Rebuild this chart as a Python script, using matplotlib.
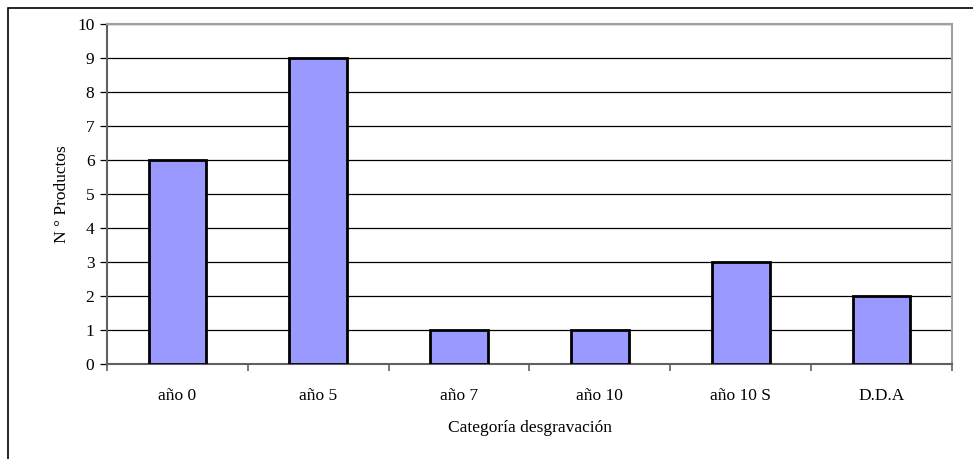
import matplotlib.pyplot as plt
import matplotlib.patches as patches
import numpy as np

categorias = ['año 0', 'año 5', 'año 7', 'año 10', 'año 10 S', 'D.D.A']
productos = [6, 9, 1, 1, 3, 2]
yticks = list(range(0, 11))

plt.rcParams['font.family'] = ['Liberation Serif', 'DejaVu Serif']
plt.rcParams['font.size'] = 12.5

fig = plt.figure(figsize=(9.73, 4.59), dpi=100)
W, H = 973, 459
ax = fig.add_axes([107 / W, 1 - 364 / H, (952 - 107) / W, (364 - 24) / H])

x = np.arange(len(categorias))
ax.bar(x, productos, width=0.41, color='#9999FF', edgecolor='black', linewidth=2, zorder=3)

ax.set_xlim(-0.5, len(categorias) - 0.5)
ax.set_ylim(0, 10)
ax.set_yticks(yticks)
ax.yaxis.grid(True, color='black', linewidth=0.9, zorder=0)

ax.set_xticks(x)
ax.set_xticklabels(categorias)
ax.tick_params(axis='x', length=0, pad=17)
ax.set_xticks(np.arange(-0.5, len(categorias)), minor=True)
ax.tick_params(axis='x', which='minor', length=5, color='#606060', width=1.2)
ax.tick_params(axis='y', length=5, color='black', width=0.9, pad=4)

for s in ['top', 'right']:
    ax.spines[s].set_color('#a0a0a0')
    ax.spines[s].set_linewidth(1.5)
for s in ['left', 'bottom']:
    ax.spines[s].set_color('#606060')
    ax.spines[s].set_linewidth(1.5)

ax.set_xlabel('Categoría desgravación', labelpad=12)
ax.set_ylabel('N ° Productos', labelpad=5)

border = patches.Rectangle((8 / W, -0.1), 1.2, 1 - 8 / H + 0.1, transform=fig.transFigure,
                           fill=False, edgecolor='black', linewidth=1.2, clip_on=False)
fig.patches.append(border)

fig.savefig('out.png', dpi=100)
